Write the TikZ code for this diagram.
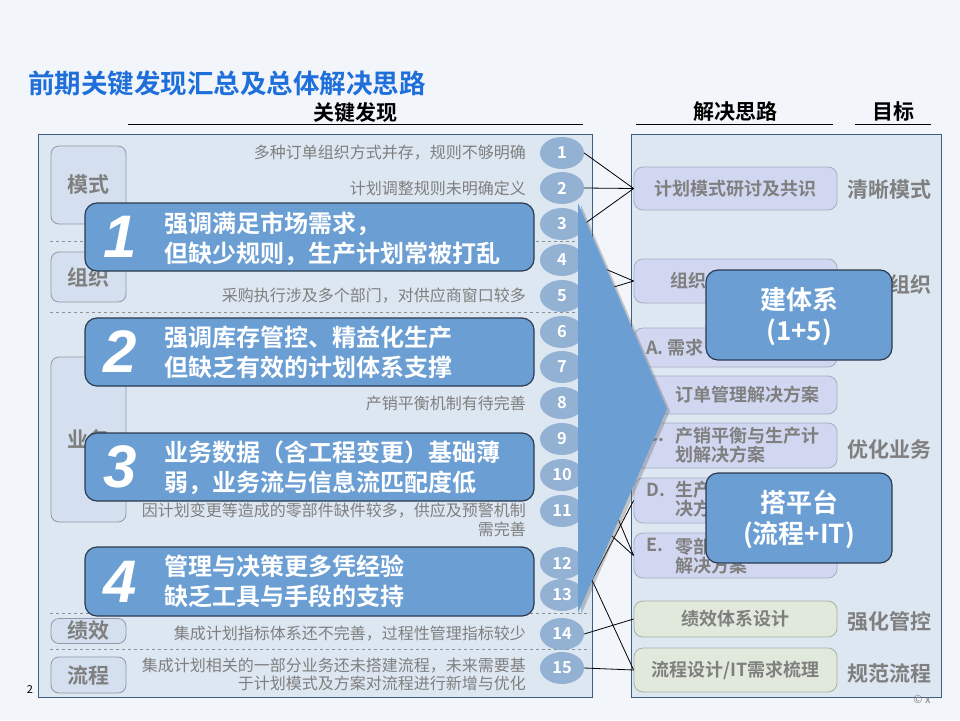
\documentclass[tikz,border=0pt]{standalone}
\usepackage{fontspec}
\setmainfont{Noto Sans CJK SC}[BoldFont={Noto Sans CJK SC Bold}]
\newfontfamily\numfont{Liberation Sans}
\usetikzlibrary{shapes.geometric,shadows}
\definecolor{bgc}{HTML}{F2F5F9}
\definecolor{panelfill}{HTML}{DDE7F2}
\definecolor{panelborder}{HTML}{3E5C84}
\definecolor{titleblue}{HTML}{1F6FDB}
\definecolor{txtgray}{HTML}{7F7F7F}
\definecolor{ellfill}{HTML}{93B1D3}
\definecolor{catfill}{HTML}{D4E0EF}
\definecolor{catborder}{HTML}{9099A5}
\definecolor{callfill}{HTML}{6B9FD4}
\definecolor{callborder}{HTML}{2C3B4F}
\definecolor{lavfill}{HTML}{D1D7F1}
\definecolor{lavborder}{HTML}{A5ADBF}
\definecolor{grnfill}{HTML}{E1E9DC}
\definecolor{grnborder}{HTML}{A8B0A4}
\definecolor{sepgray}{HTML}{8A9098}
\begin{document}
\begin{tikzpicture}[x=1pt,y=-1pt,
  panel/.style={draw=panelborder,fill=panelfill,line width=0.9pt,inner sep=0,anchor=north west},
  hdr/.style={font=\bfseries\fontsize{21}{24}\selectfont,inner sep=0},
  uline/.style={draw=black,line width=0.9pt},
  sepline/.style={draw=sepgray,dashed,line width=0.7pt},
  cat/.style={draw=catborder,fill=catfill,rounded corners=8pt,line width=0.8pt,minimum width=75pt,inner sep=0,text=txtgray,font=\bfseries\fontsize{21}{24}\selectfont},
  find/.style={anchor=east,align=right,inner sep=0,text=txtgray,font=\fontsize{16}{18.5}\selectfont},
  num/.style={ellipse,fill=ellfill,minimum width=44pt,minimum height=32pt,inner sep=0,text=white,font=\bfseries\fontsize{16.5}{16.5}\selectfont},
  callout/.style={draw=callborder,fill=callfill,rounded corners=12pt,line width=1.2pt,inner sep=0},
  bignum/.style={inner sep=0,text=white,font=\numfont\bfseries\itshape\fontsize{60}{60}\selectfont},
  ctext/.style={anchor=west,align=left,inner sep=0,text=white,font=\bfseries\fontsize{24}{30}\selectfont},
  rtext/.style={align=center,inner sep=0,text=white,font=\bfseries\fontsize{26}{31}\selectfont},
  sol/.style={draw=lavborder,fill=lavfill,rounded corners=9pt,line width=0.8pt,minimum width=203pt,inner sep=0},
  solg/.style={sol,draw=grnborder,fill=grnfill},
  stext/.style={inner sep=0,text=txtgray,font=\bfseries\fontsize{18}{18}\selectfont},
  slab/.style={stext,anchor=west,align=left,font=\bfseries\fontsize{18}{19}\selectfont},
  goal/.style={anchor=east,inner sep=0,text=txtgray,font=\bfseries\fontsize{21}{24}\selectfont},
  conn/.style={draw=black,line width=0.8pt}
]
\fill[bgc] (0,0) rectangle (960,720);
\useasboundingbox (0,0) rectangle (960,720);

% title and headers
\node[anchor=west,inner sep=0,text=titleblue,font=\bfseries\fontsize{26.5}{30}\selectfont] (title) at (28,83) {前期关键发现汇总及总体解决思路};
\node[hdr] (h1) at (355,113) {关键发现};
\node[hdr] (h2) at (735,112) {解决思路};
\node[hdr] (h3) at (893,112) {目标};
\coordinate (u1a) at (128,124); \coordinate (u1b) at (583,124);
\coordinate (u2a) at (636,124); \coordinate (u2b) at (833,124);
\coordinate (u3a) at (855,124); \coordinate (u3b) at (931,124);
\draw[uline] (u1a) -- (u1b);
\draw[uline] (u2a) -- (u2b);
\draw[uline] (u3a) -- (u3b);

% left panel
\node[panel,minimum width=554pt,minimum height=563pt] (lbox) at (38,134) {};
\foreach \y [count=\k] in {241,312,613,649} {
  \coordinate (sa\k) at (50,\y); \coordinate (sb\k) at (590,\y);
  \draw[sepline] (sa\k) -- (sb\k);
}
\node[cat,minimum height=78pt] (k1) at (88.5,185) {模式};
\node[cat,minimum height=50pt] (k2) at (88.5,277) {组织};
\node[cat,minimum height=165pt] (k3) at (88.5,439.5) {业务};
\node[cat,minimum height=25pt] (k4) at (88.5,631) {绩效};
\node[cat,minimum height=36pt] (k5) at (88.5,675) {流程};

\node[find] (f1) at (526,153) {多种订单组织方式并存，规则不够明确};
\node[find] (f2) at (526,188) {计划调整规则未明确定义};
\node[find] (f5) at (526,296) {采购执行涉及多个部门，对供应商窗口较多};
\node[find] (f8) at (526,403) {产销平衡机制有待完善};
\node[find] (f11) at (526,520) {因计划变更等造成的零部件缺件较多，供应及预警机制\\需完善};
\node[find] (f14) at (526,634) {集成计划指标体系还不完善，过程性管理指标较少};
\node[find] (f15) at (526,674.5) {集成计划相关的一部分业务还未搭建流程，未来需要基\\于计划模式及方案对流程进行新增与优化};

\foreach \i/\y in {1/153,2/188,3/224,4/260,5/296,6/332,7/367,8/403,9/439,10/475,11/511,12/563,13/595,14/634,15/668} {
  \node[num] (n\i) at (562,\y) {\i};
}

% right panel
\node[panel,minimum width=310pt,minimum height=563pt] (rbox) at (631,134) {};
\node[sol,minimum height=43pt] (s1) at (735.5,188.5) {};
\node[stext] (s1t) at (735.5,188.5) {计划模式研讨及共识};
\node[sol,minimum height=44pt] (s2) at (735.5,281) {};
\node[slab] (s2t) at (670,281) {组织};
\node[sol,minimum height=39pt] (s3) at (735.5,347.5) {};
\node[slab] (s3t) at (646,347.5) {A.~需求};
\node[sol,minimum height=38pt] (s4) at (735.5,395) {};
\node[slab] (s4t) at (675,395) {订单管理解决方案};
\node[sol,minimum height=45pt] (s5) at (735.5,445.5) {};
\node[slab] (s5a) at (646,435) {C.};
\node[slab] (s5t) at (675,445.5) {产销平衡与生产计\\划解决方案};
\node[sol,minimum height=45pt] (s6) at (735.5,500.5) {};
\node[slab] (s6a) at (646,490) {D.};
\node[slab] (s6t) at (675,499.5) {生产\\决方};
\node[sol,minimum height=45pt] (s7) at (735.5,555.5) {};
\node[slab] (s7a) at (646,545) {E.};
\node[slab] (s7t) at (675,556) {零部\\解决方案};
\node[solg,minimum height=36pt] (s8) at (735.5,619) {};
\node[stext] (s8t) at (735.5,619) {绩效体系设计};
\node[solg,minimum height=44pt] (s9) at (735.5,670) {};
\node[stext] (s9t) at (735.5,670) {流程设计/IT需求梳理};

\node[goal] (g1) at (932,190) {清晰模式};
\node[goal] (g2) at (932,284) {组织};
\node[goal] (g3) at (932,449) {优化业务};
\node[goal] (g4) at (932,622) {强化管控};
\node[goal] (g5) at (932,673) {规范流程};

% connectors
\draw[conn] (n1.east) -- (s1.west);
\draw[conn] (n2.east) -- (s1.west);
\draw[conn] (n3.east) -- (s1.west);
\draw[conn] (n4.east) -- (s2.west);
\draw[conn] (n5.east) -- (s2.west);
\draw[conn] (n9.east) -- (s7.west);
\draw[conn] (n11.east) -- (s7.west);
\draw[conn] (n13.east) -- (s6.west);
\draw[conn] (n12.east) -- (s9.west);
\draw[conn] (n14.east) -- (s8.west);
\draw[conn] (n15.east) -- (s9.west);

% big arrow
\coordinate (at) at (578,203);
\coordinate (ap) at (667,409);
\coordinate (ab) at (578,613);
\fill[callfill,drop shadow={shadow xshift=3pt,shadow yshift=-2pt,opacity=0.35,fill=black!60}] (at) -- (ap) -- (ab) -- cycle;

% left callouts
\node[callout,minimum width=449pt,minimum height=68pt] (c1) at (309.5,237) {};
\node[bignum] (c1n) at (120,237) {1};
\node[ctext] (c1t) at (164,238.5) {强调满足市场需求，\\但缺少规则，生产计划常被打乱};
\node[callout,minimum width=449pt,minimum height=68pt] (c2) at (309.5,352) {};
\node[bignum] (c2n) at (120,352) {2};
\node[ctext] (c2t) at (164,352.5) {强调库存管控、精益化生产\\但缺乏有效的计划体系支撑};
\node[callout,minimum width=449pt,minimum height=68pt] (c3) at (309.5,467) {};
\node[bignum] (c3n) at (120,467) {3};
\node[ctext] (c3t) at (164,467.5) {业务数据（含工程变更）基础薄\\弱，业务流与信息流匹配度低};
\node[callout,minimum width=449pt,minimum height=69pt] (c4) at (309.5,581.5) {};
\node[bignum] (c4n) at (120,581.5) {4};
\node[ctext] (c4t) at (164,581) {管理与决策更多凭经验\\缺乏工具与手段的支持};

% right callouts
\node[callout,minimum width=186pt,minimum height=90pt] (r1) at (799,315) {};
\node[rtext] (r1t) at (799,317) {建体系\\(1+5)};
\node[callout,minimum width=186pt,minimum height=90pt] (r2) at (799,518) {};
\node[rtext] (r2t) at (799,519) {搭平台\\(流程+IT)};

% page marks
\node[inner sep=0,font=\fontsize{11}{12}\selectfont] (pg) at (30,689) {2};
\node[inner sep=0,text=txtgray,font=\fontsize{11}{12}\selectfont] (cp) at (922,700) {© x};
\end{tikzpicture}
\end{document}
